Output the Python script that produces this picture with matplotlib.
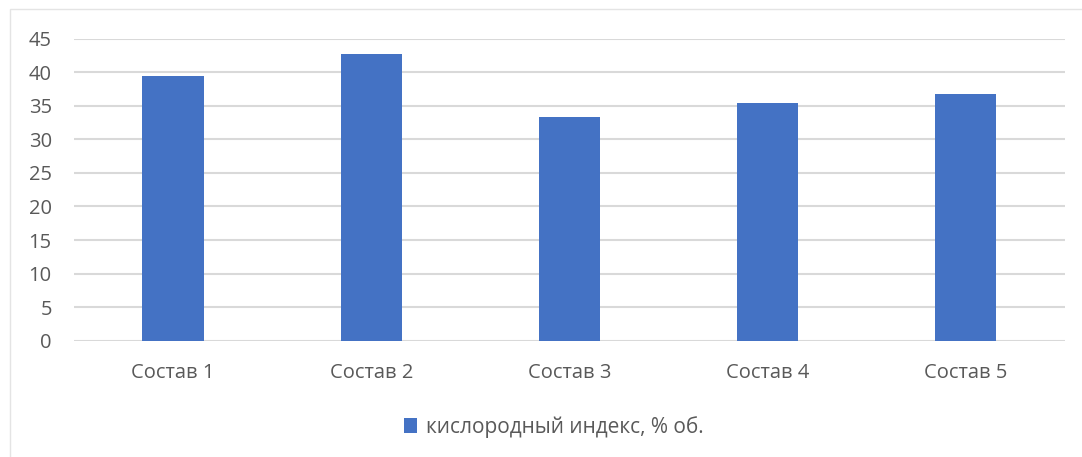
import matplotlib.pyplot as plt
from matplotlib.patches import Rectangle, Patch

categories = ["Состав 1", "Состав 2", "Состав 3", "Состав 4", "Состав 5"]
values = [39.4, 42.7, 33.4, 35.4, 36.8]
series_name = "кислородный индекс, % об."
y_ticks = [0, 5, 10, 15, 20, 25, 30, 35, 40, 45]

bar_color = "#4472C4"
text_color = "#595959"
grid_color = "#D9D9D9"

plt.rcParams["font.family"] = ["Open Sans", "DejaVu Sans"]

fig = plt.figure(figsize=(10.82, 4.57), dpi=100)
ax = fig.add_axes([0.0684, 0.2545, 0.9156, 0.6608])

x = range(len(categories))
ax.bar(x, values, width=0.31, color=bar_color, zorder=3)

ax.set_xlim(-0.5, len(categories) - 0.5)
ax.set_ylim(0, 45)
ax.set_yticks(y_ticks)
ax.set_xticks(list(x))
ax.set_xticklabels(categories)

ax.yaxis.grid(True, color=grid_color, linewidth=1.5, zorder=0)
ax.set_axisbelow(True)
for side in ["left", "right", "top", "bottom"]:
    ax.spines[side].set_visible(False)
ax.tick_params(axis="both", length=0, labelsize=14.5, colors=text_color)
ax.tick_params(axis="y", pad=16)
ax.tick_params(axis="x", pad=16)

# chart area border (only left and top edges fall inside the crop)
fig.patches.append(Rectangle((10 / 1082, -0.1), 1.2, (457 - 9) / 457 + 0.1,
                             transform=fig.transFigure, fill=False,
                             edgecolor="#E4E4E4", linewidth=1.0))

handle = Patch(facecolor=bar_color, edgecolor="none")
fig.legend([handle], [series_name], loc="center", bbox_to_anchor=(0.512, 1 - 427 / 457),
           frameon=False, fontsize=15, labelcolor=text_color,
           handlelength=0.6, handleheight=0.75, handletextpad=0.45)

fig.savefig("out.png", dpi=100, facecolor="white")
